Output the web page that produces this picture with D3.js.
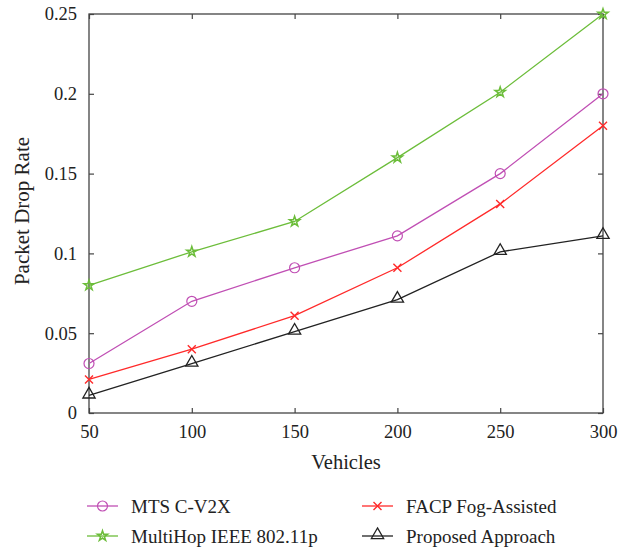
<!DOCTYPE html>
<html>
<head>
<meta charset="utf-8"/>
<title>Packet drop rate</title>
<script src="https://d3js.org/d3.v7.min.js"></script>
<style>
  body { margin: 0; background: #fff; overflow: hidden; }
  svg { display: block; }
  text { font-family: "Liberation Serif", "DejaVu Serif", serif; fill: #222; }
</style>
</head>
<body>
<svg id="chart" width="632" height="548"></svg>
<script>
var vehicles = [50, 100, 150, 200, 250, 300];
var mtsC2vx = [0.031, 0.070, 0.091, 0.111, 0.150, 0.200];
var multiHop = [0.080, 0.101, 0.120, 0.160, 0.201, 0.250];
var facpFog = [0.021, 0.040, 0.061, 0.091, 0.131, 0.180];
var proposed = [0.011, 0.031, 0.051, 0.071, 0.101, 0.111];
var yTicks = [0, 0.05, 0.1, 0.15, 0.2, 0.25];
var yTickLabels = ["0", "0.05", "0.1", "0.15", "0.2", "0.25"];

var series = [
  {name: "MTS C-V2X", values: mtsC2vx, color: "#c04fb4", marker: "circle"},
  {name: "MultiHop IEEE 802.11p", values: multiHop, color: "#6cbd3a", marker: "star"},
  {name: "FACP Fog-Assisted", values: facpFog, color: "#ff2a2a", marker: "cross"},
  {name: "Proposed Approach", values: proposed, color: "#222222", marker: "triangle"}
];

var svg = d3.select("#chart");
// plot box (note: "top" is reserved on window, so use pl/pr/pt/pb)
var pl = 89, pr = 603, pt = 14, pb = 413;

var x = d3.scaleLinear().domain([50, 300]).range([pl, pr]);
var y = d3.scaleLinear().domain([0, 0.25]).range([pb, pt]);

// frame
svg.append("rect")
  .attr("x", pl).attr("y", pt)
  .attr("width", pr - pl).attr("height", pb - pt)
  .attr("fill", "none").attr("stroke", "#444").attr("stroke-width", 1.3);

// axes with inward ticks
var axisStyle = function(g) {
  g.select(".domain").remove();
  g.selectAll(".tick line").attr("stroke", "#444").attr("stroke-width", 1.2);
  g.selectAll(".tick text").style("font-size", "18.5px").attr("fill", "#222");
};

svg.append("g").attr("transform", "translate(0," + pb + ")")
  .call(d3.axisBottom(x).tickValues(vehicles).tickSizeInner(-5).tickPadding(12))
  .call(axisStyle);
svg.append("g").attr("transform", "translate(0," + pt + ")")
  .call(d3.axisTop(x).tickValues(vehicles).tickSizeInner(-5).tickFormat(""))
  .call(axisStyle);
svg.append("g").attr("transform", "translate(" + pl + ",0)")
  .call(d3.axisLeft(y).tickValues(yTicks).tickSizeInner(-5).tickPadding(12)
    .tickFormat(function(d, i) { return yTickLabels[i]; }))
  .call(axisStyle);
svg.append("g").attr("transform", "translate(" + pr + ",0)")
  .call(d3.axisRight(y).tickValues(yTicks).tickSizeInner(-5).tickFormat(""))
  .call(axisStyle);

// axis titles
svg.append("text")
  .attr("x", (pl + pr) / 2).attr("y", 469)
  .attr("text-anchor", "middle").style("font-size", "20.5px")
  .text("Vehicles");
svg.append("text")
  .attr("transform", "translate(29,211) rotate(-90)")
  .attr("text-anchor", "middle").style("font-size", "21px")
  .text("Packet Drop Rate");

var starPath = d3.symbol().type(d3.symbolStar).size(32);
var triPath = d3.symbol().type(d3.symbolTriangle).size(65);

function drawMarker(g, kind, color) {
  if (kind == "circle") {
    g.append("circle").attr("r", 5).attr("fill", "none")
      .attr("stroke", color).attr("stroke-width", 1.2);
  } else if (kind == "star") {
    g.append("path").attr("d", starPath).attr("fill", "none")
      .attr("stroke", color).attr("stroke-width", 1.5);
  } else if (kind == "cross") {
    g.append("path").attr("d", "M-4,-4L4,4M-4,4L4,-4")
      .attr("stroke", color).attr("stroke-width", 1.4);
  } else if (kind == "triangle") {
    g.append("path").attr("d", triPath).attr("transform", "translate(0,-1)")
      .attr("fill", "none").attr("stroke", color).attr("stroke-width", 1.3);
  }
}

var line = d3.line()
  .x(function(d, i) { return x(vehicles[i]); })
  .y(function(d) { return y(d); });

series.forEach(function(s) {
  svg.append("path")
    .attr("d", line(s.values))
    .attr("fill", "none").attr("stroke", s.color).attr("stroke-width", 1.3);
  s.values.forEach(function(v, i) {
    var g = svg.append("g").attr("transform", "translate(" + x(vehicles[i]) + "," + y(v) + ")");
    drawMarker(g, s.marker, s.color);
  });
});

// legend
var legendPos = [
  {x: 87, y: 506}, {x: 87, y: 536}, {x: 362, y: 506}, {x: 362, y: 536}
];
series.forEach(function(s, i) {
  var p = legendPos[i];
  svg.append("line")
    .attr("x1", p.x).attr("x2", p.x + 31)
    .attr("y1", p.y).attr("y2", p.y)
    .attr("stroke", s.color).attr("stroke-width", 1.3);
  var g = svg.append("g").attr("transform", "translate(" + (p.x + 15.5) + "," + p.y + ")");
  drawMarker(g, s.marker, s.color);
  svg.append("text")
    .attr("x", p.x + 44).attr("y", p.y + 6.5)
    .style("font-size", "19px")
    .text(s.name);
});
</script>
</body>
</html>
